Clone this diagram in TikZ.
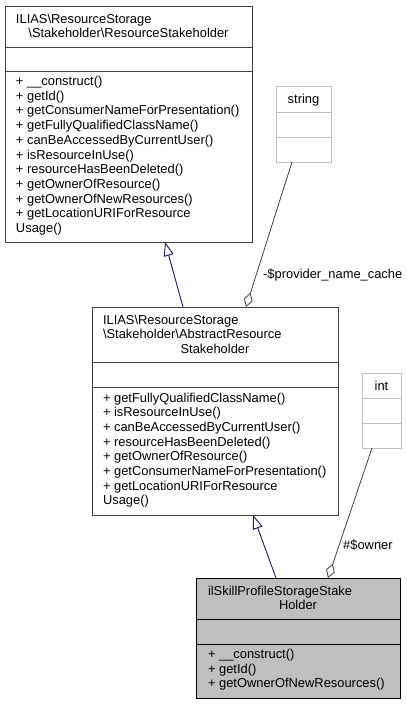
\documentclass[tikz,border=0pt]{standalone}
\usepackage{fontspec}
\setmainfont{Liberation Sans}
\usetikzlibrary{arrows.meta}
\definecolor{edgegray}{RGB}{64,64,64}
\definecolor{inhnavy}{RGB}{25,25,112}
\definecolor{lightborder}{RGB}{191,191,191}
\definecolor{fillgray}{RGB}{191,191,191}
\begin{document}
\begin{tikzpicture}[x=1pt,y=-1pt,
  font=\fontsize{12.9}{14.7}\selectfont,
  classbox/.style={draw=edgegray, line width=1pt, anchor=north west, inner sep=0pt, outer sep=0pt, fill=white},
  mainbox/.style={classbox, draw=black, fill=fillgray},
  typebox/.style={classbox, draw=lightborder},
  sepline/.style={draw=edgegray, line width=1pt},
  lightsep/.style={draw=lightborder, line width=1pt},
  txt/.style={inner sep=0pt, outer sep=0pt, anchor=base west},
  txtc/.style={inner sep=0pt, outer sep=0pt, anchor=base},
  inherit/.style={draw=inhnavy, line width=0.9pt, -{Triangle[open, fill=white, length=14pt, width=10pt]}},
  aggreg/.style={draw=edgegray, line width=0.8pt, -{Diamond[open, fill=white, length=15pt, width=9pt]}},
  elabel/.style={inner sep=0pt, anchor=base west}
]
\useasboundingbox (0,0) rectangle (407,705);

% class boxes
\node[classbox, minimum width=247pt, minimum height=236pt] (b1) at (5,6) {};
\node[classbox, minimum width=246pt, minimum height=208pt] (b2) at (92,307) {};
\node[mainbox, minimum width=204pt, minimum height=120pt] (b3) at (196,578) {};
\node[typebox, minimum width=55pt, minimum height=76pt] (str) at (276,86) {};
\node[typebox, minimum width=39pt, minimum height=75pt] (int) at (362,373) {};

% compartment lines
\draw[sepline] ([yshift=-41pt]b1.north west) -- ([yshift=-41pt]b1.north east);
\draw[sepline] ([yshift=-65pt]b1.north west) -- ([yshift=-65pt]b1.north east);
\draw[sepline] ([yshift=-55pt]b2.north west) -- ([yshift=-55pt]b2.north east);
\draw[sepline] ([yshift=-80pt]b2.north west) -- ([yshift=-80pt]b2.north east);
\draw[sepline, draw=black] ([yshift=-41pt]b3.north west) -- ([yshift=-41pt]b3.north east);
\draw[sepline, draw=black] ([yshift=-66pt]b3.north west) -- ([yshift=-66pt]b3.north east);
\draw[lightsep] ([yshift=-26pt]str.north west) -- ([yshift=-26pt]str.north east);
\draw[lightsep] ([yshift=-51pt]str.north west) -- ([yshift=-51pt]str.north east);
\draw[lightsep] ([yshift=-25pt]int.north west) -- ([yshift=-25pt]int.north east);
\draw[lightsep] ([yshift=-50pt]int.north west) -- ([yshift=-50pt]int.north east);

% connectors
\draw[inherit] ([xshift=-32pt]b2.north) -- ([xshift=36.5pt]b1.south);
\draw[inherit] ([xshift=-22pt]b3.north) -- ([xshift=38pt]b2.south);
\draw[aggreg] ([xshift=-11.5pt]str.south) -- ([xshift=31pt]b2.north);
\draw[aggreg] ([xshift=-9.5pt]int.south) -- ([xshift=30pt]b3.north);

\node[elabel] (l1) at (263,278) {-\$provider\_name\_cache};
\node[elabel] (l2) at (343,549) {\#\$owner};

% texts box 1
\node[txt] (b1h1) at (16,23) {ILIAS\textbackslash ResourceStorage};
\node[txtc] (b1h2) at (128.5,37.7) {\textbackslash Stakeholder\textbackslash ResourceStakeholder};
\foreach \t [count=\i from 0] in {+ \_\_construct(), + getId(), + getConsumerNameForPresentation(), + getFullyQualifiedClassName(), + canBeAccessedByCurrentUser(), + isResourceInUse(), + resourceHasBeenDeleted(), + getOwnerOfResource(), + getOwnerOfNewResources(), + getLocationURIForResource, Usage()}
  \node[txt] (b1m\i) at (16,85.5+14.7*\i) {\t};

% texts box 2
\node[txt] (b2h1) at (103,324) {ILIAS\textbackslash ResourceStorage};
\node[txt] (b2h2) at (103,338.7) {\textbackslash Stakeholder\textbackslash AbstractResource};
\node[txtc] (b2h3) at (215,353.4) {Stakeholder};
\foreach \t [count=\i from 0] in {+ getFullyQualifiedClassName(), + isResourceInUse(), + canBeAccessedByCurrentUser(), + resourceHasBeenDeleted(), + getOwnerOfResource(), + getConsumerNameForPresentation(), + getLocationURIForResource, Usage()}
  \node[txt] (b2m\i) at (103,402+14.7*\i) {\t};

% texts box 3
\node[txt] (b3h1) at (208,595) {ilSkillProfileStorageStake};
\node[txtc] (b3h2) at (298,609.7) {Holder};
\foreach \t [count=\i from 0] in {+ \_\_construct(), + getId(), + getOwnerOfNewResources()}
  \node[txt] (b3m\i) at (208,658.5+14.7*\i) {\t};

% type boxes text
\node[txtc] (strt) at (303.5,103) {string};
\node[txtc] (intt) at (381.5,390) {int};
\end{tikzpicture}
\end{document}
